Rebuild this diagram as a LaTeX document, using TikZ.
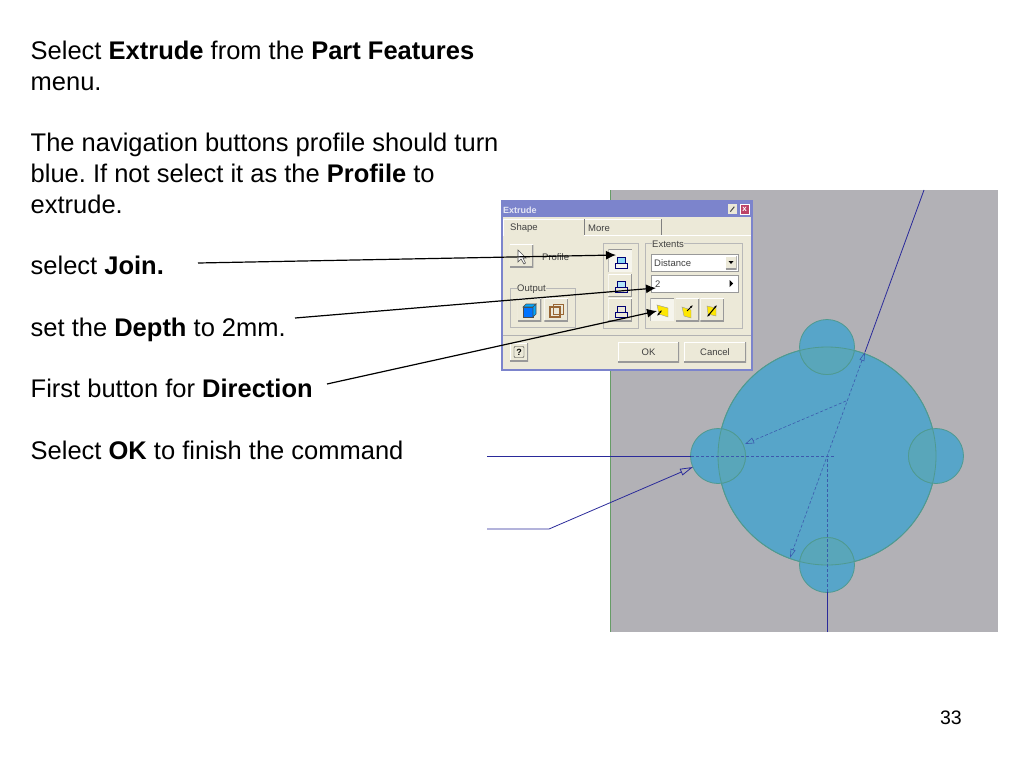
\documentclass[tikz,border=0pt]{standalone}
\usepackage{fontspec}
\setmainfont{Liberation Sans}
\usetikzlibrary{arrows.meta}
\definecolor{panel}{HTML}{ECE9D8}
\definecolor{frameblue}{HTML}{7C84CC}
\definecolor{sketchgrey}{HTML}{B2B1B6}
\definecolor{sketchblue}{HTML}{57A5C9}
\definecolor{overlapblue}{HTML}{59A6BA}
\definecolor{rimgreen}{HTML}{4F9A90}
\definecolor{linkblue}{HTML}{2A2A9A}
\frenchspacing
\tikzset{
  slidetext/.style={anchor=base west,inner sep=0pt,font=\fontsize{25.5}{30}\selectfont},
  dlgtext/.style={inner sep=0pt,text=black!75,font=\fontsize{9.5}{11}\selectfont},
  dlgbutton/.style={fill=panel,minimum width=23.5pt,minimum height=22.5pt,inner sep=0pt,
    path picture={
      \draw[white,line width=1.4pt] (path picture bounding box.south west) -- (path picture bounding box.north west) -- (path picture bounding box.north east);
      \draw[black!40,line width=1.6pt] (path picture bounding box.south west) -- (path picture bounding box.south east) -- (path picture bounding box.north east);
    }},
  pressedbutton/.style={dlgbutton,fill=white!55!panel,
    path picture={
      \draw[black!40,line width=1.4pt] (path picture bounding box.south west) -- (path picture bounding box.north west) -- (path picture bounding box.north east);
    }},
  groupbox/.style={draw=black!28,line width=0.6pt},
  pointer/.style={draw=black,line width=1.2pt,-{Latex[length=10pt,width=9pt]}},
  sketchline/.style={draw=linkblue,line width=0.8pt},
  hiddenline/.style={draw=linkblue!60!sketchblue,densely dashed,line width=0.6pt},
  lobe/.style={fill=sketchblue,draw=rimgreen,line width=0.8pt},
}
\begin{document}
\begin{tikzpicture}[x=1pt,y=-1pt]

  \useasboundingbox[fill=white] (0,0) rectangle (1024,768);

  % instructions
  \node[slidetext] (line1) at (30.5,59.7) {Select \textbf{Extrude} from the \textbf{Part Features}};
  \node[slidetext] (line2) at (30.5,90.7) {menu.};
  \node[slidetext] (line3) at (30.5,151.7) {The navigation buttons profile should turn};
  \node[slidetext] (line4) at (30.5,182.7) {blue. If not select it as the \textbf{Profile} to};
  \node[slidetext] (line5) at (30.5,213.7) {extrude.};
  \node[slidetext] (line6) at (30.5,274.7) {select \textbf{Join.}};
  \node[slidetext] (line7) at (30.5,336.7) {set the \textbf{Depth} to 2mm.};
  \node[slidetext] (line8) at (30.5,397.7) {First button for \textbf{Direction}};
  \node[slidetext] (line9) at (30.5,459.7) {Select \textbf{OK} to finish the command};
  \node[anchor=base east,inner sep=0pt,font=\fontsize{19.5}{22}\selectfont] (pagenum) at (962,724) {33};

  % sketch area
  \fill[sketchgrey] (610,190) rectangle (998,632);
  \draw[draw=green!35!black!60,line width=1pt] (610,190) -- (610,632);

  \filldraw[lobe] (827,456) circle (109);
  \filldraw[lobe] (827,347) circle (27.5);
  \filldraw[lobe] (718,456) circle (27.5);
  \filldraw[lobe] (936,456) circle (27.5);
  \filldraw[lobe] (827,565) circle (27.5);
  % overlaps of the lobes
  \begin{scope}
    \clip (827,456) circle (109);
    \filldraw[fill=overlapblue,draw=rimgreen,line width=0.7pt] (827,347) circle (27.5);
    \filldraw[fill=overlapblue,draw=rimgreen,line width=0.7pt] (718,456) circle (27.5);
    \filldraw[fill=overlapblue,draw=rimgreen,line width=0.7pt] (936,456) circle (27.5);
    \filldraw[fill=overlapblue,draw=rimgreen,line width=0.7pt] (827,565) circle (27.5);
  \end{scope}
  \draw[draw=rimgreen,line width=0.8pt] (827,456) circle (109);

  % dimension lines
  \coordinate (leftend) at (487,456);
  \coordinate (lefthit) at (691,456);
  \coordinate (centre) at (835,456);
  \coordinate (kneestart) at (487,529);
  \coordinate (knee) at (549,529);
  \coordinate (kneetip) at (693,467);
  \coordinate (topend) at (924,190);
  \coordinate (diamtop) at (865,352);
  \coordinate (diamlow) at (790,558);
  \coordinate (bottomend) at (827,632);
  \coordinate (bottomhit) at (827,592);
  \coordinate (bottomcentre) at (827,456);
  \coordinate (leaderstart) at (846,401);
  \coordinate (leadertip) at (745,444);

  \draw[sketchline] (leftend) -- (lefthit);
  \draw[hiddenline] (lefthit) -- (centre);
  \draw[sketchline,-{Triangle[open,length=13pt,width=7pt]}] (kneestart) -- (knee) -- (kneetip);
  \draw[sketchline] (topend) -- (diamtop);
  \draw[hiddenline,{Triangle[open,length=9pt,width=5pt]}-{Triangle[open,length=9pt,width=5pt]}] (diamtop) -- (diamlow);
  \draw[sketchline] (bottomend) -- (bottomhit);
  \draw[hiddenline] (bottomhit) -- (bottomcentre);
  \draw[hiddenline,-{Triangle[open,length=9pt,width=6pt]}] (leaderstart) -- (leadertip);

  % extrude dialog
  \filldraw[fill=panel,draw=frameblue,line width=2pt] (502,201) rectangle (752,370);
  \fill[frameblue] (502,201) rectangle (752,217);
  \node[anchor=west,inner sep=0pt,text=white!80!frameblue,font=\fontsize{9}{10}\bfseries\selectfont] (dlgtitle) at (503,210) {Extrude};
  \node[fill=panel,minimum width=9pt,minimum height=10pt,inner sep=0pt] (dlgpin) at (732.5,209) {};
  \draw[line width=1pt,draw=black!70] (dlgpin.south west) ++(2.5,-2.5) -- ++(4,-5);
  \node[fill=red!50!frameblue,draw=white,line width=0.6pt,text=white,minimum width=9pt,minimum height=10pt,inner sep=0pt,font=\fontsize{8}{8}\bfseries\selectfont] (dlgclose) at (744.5,209) {x};

  % tabs
  \draw[draw=white,line width=0.8pt] (503,236) -- (503,219) -- (661,219);
  \draw[draw=black!50,line width=0.8pt] (584,219) -- (584,235);
  \draw[draw=black!50,line width=0.8pt] (661,219) -- (661,235);
  \draw[draw=white,line width=0.8pt] (584,235) -- (751,235);
  \draw[draw=black!30,line width=0.8pt] (503,335) -- (751,335);
  \node[dlgtext,anchor=base west] (tabshape) at (510,230) {Shape};
  \node[dlgtext,anchor=base west] (tabmore) at (588,231) {More};

  % profile and output
  \node[dlgbutton] (profilebtn) at (521.5,256) {};
  \draw[draw=black!70,fill=white,line width=0.6pt] (518,250) -- (518,262) -- (521,259) -- (524,264) -- (525.5,263) -- (523,258) -- (526,258) -- cycle;
  \node[dlgtext,anchor=base west] (profilelabel) at (542,260) {Profile};
  \draw[groupbox] (510,288) rectangle (575,327);
  \node[dlgtext,anchor=base west,fill=panel] (outputlabel) at (517,291) {Output};
  \node[dlgbutton] (solidbtn) at (529.5,310) {};
  \node[dlgbutton] (surfacebtn) at (556,310) {};
  \filldraw[fill=blue!55!cyan,draw=black!70,line width=0.6pt] (523,307) rectangle (533,317);
  \filldraw[fill=blue!35!cyan,draw=black!70,line width=0.6pt] (523,307) -- (526,304) -- (536,304) -- (533,307) -- cycle;
  \filldraw[fill=blue!35!cyan,draw=black!70,line width=0.6pt] (533,307) -- (536,304) -- (536,314) -- (533,317) -- cycle;
  \draw[draw=brown!80!black,line width=1.2pt] (550,307) rectangle (560,317);
  \draw[draw=brown!80!black,line width=1pt] (553,304) rectangle (563,314);

  % join, cut, intersect
  \draw[groupbox] (603,243) rectangle (638,328);
  \node[pressedbutton] (joinbtn) at (620,261) {};
  \node[dlgbutton] (cutbtn) at (620,285.5) {};
  \node[dlgbutton] (intersectbtn) at (620,310) {};
  \foreach \yrow/\tint in {262/cyan!45,286/cyan!30,311/panel} {
    \filldraw[fill=\tint,draw=blue!45!black,line width=0.7pt] (617,\yrow-5) rectangle (625,\yrow+1);
    \draw[draw=blue!45!black,line width=0.7pt] (615,\yrow+1) rectangle (627,\yrow+6);
  }

  % extents
  \draw[groupbox] (645,243) rectangle (742,328);
  \node[dlgtext,anchor=base west,fill=panel] (extentslabel) at (652,247) {Extents};
  \filldraw[fill=white,draw=black!40,line width=0.7pt] (651,254) rectangle (738,271);
  \node[dlgtext,anchor=base west] (distancetext) at (654,266) {Distance};
  \node[dlgbutton,minimum width=11pt,minimum height=13pt] (distancearrow) at (731,262.5) {};
  \fill[black] (728.5,261) -- (733.5,261) -- (731,264) -- cycle;
  \filldraw[fill=white,draw=black!40,line width=0.7pt] (651,275) rectangle (738,292);
  \node[dlgtext,anchor=base west] (depthtext) at (655,287) {2};
  \fill[black] (729.5,280) -- (733,283.5) -- (729.5,287) -- cycle;
  \node[pressedbutton] (dirone) at (662,310) {};
  \node[dlgbutton] (dirtwo) at (687.5,310) {};
  \node[dlgbutton] (dirboth) at (712,310) {};
  \filldraw[fill=yellow!90!orange,draw=black!40,line width=0.4pt] (657,305) -- (668,308) -- (668,317) -- (659,314) -- cycle;
  \filldraw[fill=yellow!90!orange,draw=black!40,line width=0.4pt] (682,307) -- (691,310) -- (691,318) -- (684,316) -- cycle;
  \filldraw[fill=yellow!90!orange,draw=black!40,line width=0.4pt] (707,306) -- (716,308) -- (716,316) -- (708,314) -- cycle;
  \draw[line width=1pt,{Latex[length=3pt]}-{Latex[length=3pt]}] (657,316) -- (662,310);
  \draw[line width=1pt,-{Latex[length=3pt]}] (687,311) -- (693,305);
  \draw[line width=1pt,{Latex[length=3pt]}-{Latex[length=3pt]}] (707,317) -- (717,305);

  % bottom row
  \node[dlgbutton,minimum width=18pt,minimum height=18pt] (helpbtn) at (519,352) {};
  \node[draw=black!80,rounded corners=1pt,minimum width=10pt,minimum height=11pt,inner sep=0pt,font=\fontsize{9}{9}\bfseries\selectfont] (helpmark) at (519,352) {?};
  \node[dlgbutton,minimum width=61pt,minimum height=20pt,text=black!75,font=\fontsize{9.5}{11}\selectfont] (okbtn) at (648.5,352) {OK};
  \node[dlgbutton,minimum width=62pt,minimum height=20pt,text=black!75,font=\fontsize{9.5}{11}\selectfont] (cancelbtn) at (715,352) {Cancel};

  % callouts
  \coordinate (joinstart) at (198,263);
  \coordinate (jointip) at (616,255);
  \coordinate (depthstart) at (295,318);
  \coordinate (depthtip) at (656,288);
  \coordinate (dirstart) at (327,384);
  \coordinate (dirtip) at (657,311);
  \draw[pointer] (joinstart) -- (jointip);
  \draw[pointer] (depthstart) -- (depthtip);
  \draw[pointer] (dirstart) -- (dirtip);

\end{tikzpicture}
\end{document}
